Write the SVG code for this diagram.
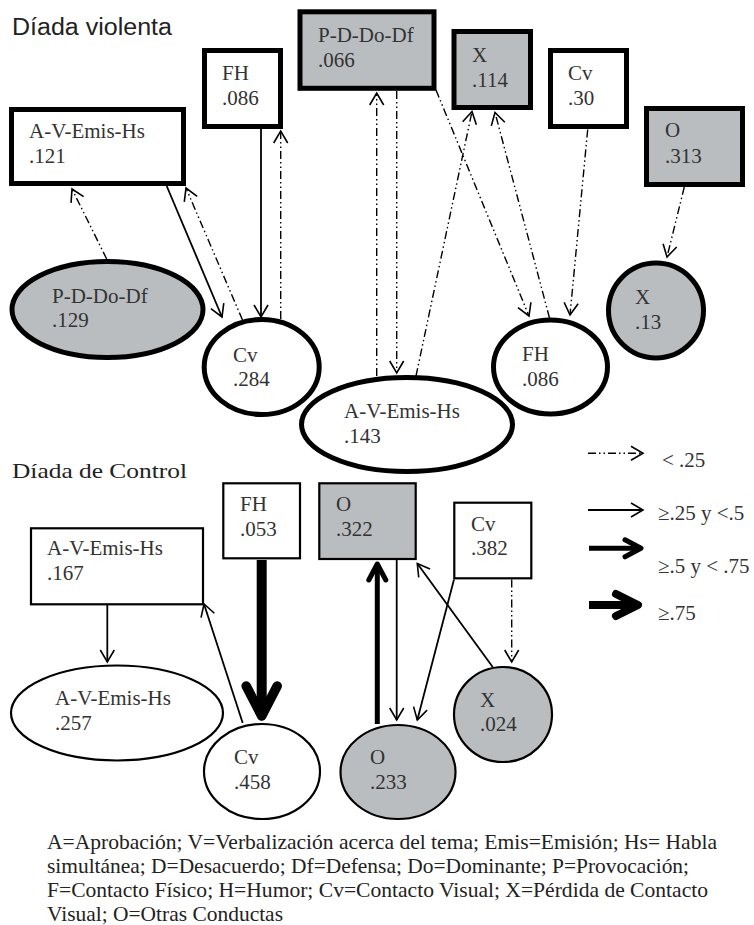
<svg xmlns="http://www.w3.org/2000/svg" width="754" height="925" viewBox="0 0 754 925">
<style>
  .lbl{font-family:"Liberation Serif","Times New Roman",serif;font-size:21px;fill:#333}
  .cap{font-family:"Liberation Serif","Times New Roman",serif;font-size:21px;fill:#222}
  .leg{font-family:"Liberation Serif","Times New Roman",serif;font-size:21px;fill:#333}
  .bk{fill:#fff;stroke:#000;stroke-width:5}
  .bkg{fill:#b9bdbf;stroke:#000;stroke-width:5}
  .bt{fill:#fff;stroke:#000;stroke-width:2.2}
  .btg{fill:#b9bdbf;stroke:#000;stroke-width:2.2}
  .dd{fill:none;stroke:#000;stroke-width:1.4;stroke-dasharray:8 3 1.5 3 1.5 3;marker-end:url(#mThin)}
  .sl{fill:none;stroke:#000;stroke-width:1.8;marker-end:url(#mThin)}
  .s5{fill:none;stroke:#000;stroke-width:5;marker-end:url(#mThick)}
  .s10{fill:none;stroke:#000;stroke-width:10;marker-end:url(#mVery)}
  .s8{fill:none;stroke:#000;stroke-width:8;marker-end:url(#mLeg75)}
</style>
<defs>
  <marker id="mThin" viewBox="-16 -10 18 20" markerWidth="18" markerHeight="20" refX="0" refY="0" orient="auto" markerUnits="userSpaceOnUse">
    <path d="M-12,-7 L0,0 L-12,7" fill="none" stroke="#000" stroke-width="1.6" stroke-dasharray="none"/>
  </marker>
  <marker id="mThick" viewBox="-24 -15 28 30" markerWidth="28" markerHeight="30" refX="0" refY="0" orient="auto" markerUnits="userSpaceOnUse">
    <path d="M-16,-8.5 L0,0 L-16,8.5" fill="none" stroke="#000" stroke-width="5" stroke-linecap="round" stroke-linejoin="round"/>
  </marker>
  <marker id="mVery" viewBox="-40 -24 46 48" markerWidth="46" markerHeight="48" refX="0" refY="0" orient="auto" markerUnits="userSpaceOnUse">
    <path d="M-30,-15.5 L0,0 L-30,15.5" fill="none" stroke="#000" stroke-width="9.5" stroke-linecap="round" stroke-linejoin="round"/>
  </marker>
  <marker id="mLeg75" viewBox="-32 -20 38 40" markerWidth="38" markerHeight="40" refX="0" refY="0" orient="auto" markerUnits="userSpaceOnUse">
    <path d="M-22,-11 L0,0 L-22,11" fill="none" stroke="#000" stroke-width="8" stroke-linecap="round" stroke-linejoin="round"/>
  </marker>
</defs>
<rect width="754" height="925" fill="#fff"/>

<text x="12" y="35" font-family="'Liberation Sans',Arial,sans-serif" font-size="23" fill="#222" textLength="160" lengthAdjust="spacingAndGlyphs">Díada violenta</text>
<text x="12" y="477.5" class="cap" font-size="24" textLength="175" lengthAdjust="spacingAndGlyphs">Díada de Control</text>

<g id="connectors">
  <!-- top dyad -->
  <path class="dd" d="M106.7,259 L72,189"/>
  <path class="sl" d="M166.7,186 L222,317"/>
  <path class="dd" d="M242.5,320 L186,188"/>
  <path class="sl" d="M261,129 L261,317"/>
  <path class="dd" d="M280.7,319 L280.7,131"/>
  <path class="dd" d="M376.7,376 L376.7,93"/>
  <path class="dd" d="M396.7,91 L396.7,373"/>
  <path class="dd" d="M416,376 L472,111.5"/>
  <path class="dd" d="M436,90 L529,316"/>
  <path class="dd" d="M549.5,318 L495,112.5"/>
  <path class="dd" d="M587.7,129.5 L570,315"/>
  <path class="dd" d="M684.3,187 L667,257"/>
  <!-- control dyad -->
  <path class="sl" d="M107.3,605 L107.3,662"/>
  <path class="sl" d="M242.7,723 L204,604"/>
  <path class="s10" d="M261.7,560 L261.7,716"/>
  <path class="s5" d="M377.3,724 L377.3,564"/>
  <path class="sl" d="M396.7,560 L396.7,720"/>
  <path class="sl" d="M454,579.5 L417.3,720"/>
  <path class="sl" d="M492.7,667 L417.3,563.5"/>
  <path class="dd" d="M511.7,579.5 L511.7,662"/>
</g>

<g id="legend">
  <path class="dd" d="M588,453.3 L643,453.3"/>
  <text class="leg" x="662" y="467">&lt; .25</text>
  <path class="sl" d="M588,510 L643,510"/>
  <text class="leg" x="658" y="520">≥.25 y &lt;.5</text>
  <path class="s5" d="M589,548.3 L641,548.3"/>
  <text class="leg" x="658" y="573">≥.5 y &lt; .75</text>
  <path class="s8" d="M589,605 L638,605"/>
  <text class="leg" x="658" y="619.5">≥.75</text>
</g>

<!-- Díada violenta nodes -->
<g id="v-avemis-box">
  <rect class="bk" x="11.5" y="109.5" width="172" height="74"/>
  <text class="lbl" x="29" y="138">A-V-Emis-Hs</text>
  <text class="lbl" x="29" y="163">.121</text>
</g>
<g id="v-fh-box">
  <rect class="bk" x="204.5" y="50.5" width="76" height="76"/>
  <text class="lbl" x="222" y="80">FH</text>
  <text class="lbl" x="222" y="105">.086</text>
</g>
<g id="v-pddodf-box">
  <rect class="bkg" x="300" y="11.8" width="134" height="76.5"/>
  <text class="lbl" x="318" y="42">P-D-Do-Df</text>
  <text class="lbl" x="318" y="67">.066</text>
</g>
<g id="v-x-box">
  <rect class="bkg" x="454" y="31.5" width="76.5" height="76"/>
  <text class="lbl" x="472" y="62">X</text>
  <text class="lbl" x="472" y="87">.114</text>
</g>
<g id="v-cv-box">
  <rect class="bk" x="550.5" y="50.5" width="76" height="76"/>
  <text class="lbl" x="568" y="80">Cv</text>
  <text class="lbl" x="568" y="105">.30</text>
</g>
<g id="v-o-box">
  <rect class="bkg" x="646.5" y="108.5" width="96" height="76"/>
  <text class="lbl" x="665" y="137">O</text>
  <text class="lbl" x="665" y="163">.313</text>
</g>
<g id="v-pddodf-ell">
  <ellipse class="bkg" cx="107.5" cy="309.5" rx="95.5" ry="48"/>
  <text class="lbl" x="52" y="303">P-D-Do-Df</text>
  <text class="lbl" x="52" y="327">.129</text>
</g>
<g id="v-cv-ell">
  <ellipse class="bk" cx="261.7" cy="367" rx="57.5" ry="47.5"/>
  <text class="lbl" x="233" y="362">Cv</text>
  <text class="lbl" x="233" y="386">.284</text>
</g>
<g id="v-avemis-ell">
  <ellipse class="bk" cx="407" cy="424.5" rx="105.5" ry="47"/>
  <text class="lbl" x="344" y="418">A-V-Emis-Hs</text>
  <text class="lbl" x="344" y="443">.143</text>
</g>
<g id="v-fh-ell">
  <ellipse class="bk" cx="550.5" cy="367" rx="57" ry="47"/>
  <text class="lbl" x="522" y="361">FH</text>
  <text class="lbl" x="522" y="386">.086</text>
</g>
<g id="v-x-ell">
  <ellipse class="bkg" cx="656" cy="310.5" rx="47.5" ry="47.5"/>
  <text class="lbl" x="635" y="304">X</text>
  <text class="lbl" x="635" y="329">.13</text>
</g>

<!-- Díada de Control nodes -->
<g id="c-avemis-box">
  <rect class="bt" x="31" y="528.3" width="172" height="76"/>
  <text class="lbl" x="47" y="555">A-V-Emis-Hs</text>
  <text class="lbl" x="47" y="580">.167</text>
</g>
<g id="c-fh-box">
  <rect class="bt" x="223.3" y="483.3" width="76.7" height="75"/>
  <text class="lbl" x="240" y="511">FH</text>
  <text class="lbl" x="240" y="536">.053</text>
</g>
<g id="c-o-box">
  <rect class="btg" x="319.3" y="483.3" width="96.4" height="75.7"/>
  <text class="lbl" x="336" y="511">O</text>
  <text class="lbl" x="336" y="536">.322</text>
</g>
<g id="c-cv-box">
  <rect class="bt" x="454.3" y="502.7" width="77" height="75.6"/>
  <text class="lbl" x="471" y="531">Cv</text>
  <text class="lbl" x="471" y="555">.382</text>
</g>
<g id="c-avemis-ell">
  <ellipse class="bt" cx="117" cy="713" rx="106" ry="47.5"/>
  <text class="lbl" x="55" y="705">A-V-Emis-Hs</text>
  <text class="lbl" x="55" y="730">.257</text>
</g>
<g id="c-cv-ell">
  <ellipse class="bt" cx="262" cy="771.5" rx="58" ry="47.5"/>
  <text class="lbl" x="234" y="764">Cv</text>
  <text class="lbl" x="234" y="789">.458</text>
</g>
<g id="c-o-ell">
  <ellipse class="btg" cx="398" cy="772" rx="57.5" ry="47"/>
  <text class="lbl" x="370" y="764">O</text>
  <text class="lbl" x="370" y="789">.233</text>
</g>
<g id="c-x-ell">
  <ellipse class="btg" cx="503" cy="714.5" rx="49" ry="47.5"/>
  <text class="lbl" x="480" y="707">X</text>
  <text class="lbl" x="480" y="731">.024</text>
</g>

<g id="caption">
  <text class="cap" x="47" y="848.5" textLength="670" lengthAdjust="spacingAndGlyphs">A=Aprobación; V=Verbalización acerca del tema; Emis=Emisión; Hs= Habla</text>
  <text class="cap" x="47" y="872.5" textLength="642" lengthAdjust="spacingAndGlyphs">simultánea; D=Desacuerdo; Df=Defensa; Do=Dominante; P=Provocación;</text>
  <text class="cap" x="47" y="896.5" textLength="661" lengthAdjust="spacingAndGlyphs">F=Contacto Físico; H=Humor; Cv=Contacto Visual; X=Pérdida de Contacto</text>
  <text class="cap" x="47" y="920.5" textLength="236" lengthAdjust="spacingAndGlyphs">Visual; O=Otras Conductas</text>
</g>
</svg>
